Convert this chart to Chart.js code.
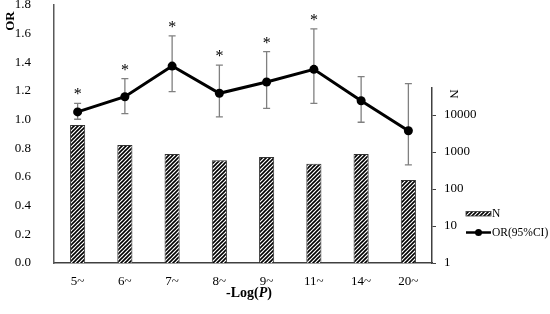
<!DOCTYPE html>
<html>
<head>
<meta charset="utf-8">
<script src="https://cdn.jsdelivr.net/npm/chart.js@4.4.1/dist/chart.umd.min.js"></script>
<style>
  html, body { margin: 0; padding: 0; background: #fff; }
  #wrap { width: 550px; height: 314px; }
</style>
</head>
<body>
<div id="wrap"><canvas id="mycanvas" width="550" height="314"></canvas></div>
<script>
var labels = ['5~', '6~', '7~', '8~', '9~', '11~', '14~', '20~'];
var orValues = [1.054, 1.16, 1.374, 1.184, 1.263, 1.351, 1.132, 0.923];
var ciLow = [1.003, 1.042, 1.195, 1.019, 1.079, 1.114, 0.982, 0.684];
var ciHigh = [1.114, 1.286, 1.584, 1.381, 1.475, 1.633, 1.30, 1.251];
var nValues = [5400, 1550, 880, 600, 730, 480, 880, 175];
var significant = [true, true, true, true, true, true, false, false];
var orTicks = [0, 0.2, 0.4, 0.6, 0.8, 1.0, 1.2, 1.4, 1.6, 1.8];
var nTicks = [1, 10, 100, 1000, 10000];

var serif = "'Liberation Serif', 'Times New Roman', serif";

function makeHatch() {
  var c = document.createElement('canvas');
  c.width = 4; c.height = 4;
  var g = c.getContext('2d');
  g.fillStyle = '#fff';
  g.fillRect(0, 0, 4, 4);
  g.strokeStyle = '#000';
  g.lineWidth = 1.6;
  g.beginPath();
  g.moveTo(0, 4); g.lineTo(4, 0);
  g.moveTo(-1, 1); g.lineTo(1, -1);
  g.moveTo(3, 5); g.lineTo(5, 3);
  g.stroke();
  return g.createPattern(c, 'repeat');
}
var hatch = makeHatch();

function noPad(s) { s.paddingTop = 0; s.paddingBottom = 0; }

// error bars, stars, custom titles and legend
var extras = {
  id: 'extras',
  beforeDatasetsDraw: function(chart) {
    var ctx = chart.ctx, xs = chart.scales.x, ys = chart.scales.y;
    ctx.save();
    ctx.strokeStyle = '#808080';
    ctx.lineWidth = 1.3;
    for (var i = 0; i < labels.length; i++) {
      var px = xs.getPixelForValue(i);
      var lo = ys.getPixelForValue(ciLow[i]);
      var hi = ys.getPixelForValue(ciHigh[i]);
      ctx.beginPath();
      ctx.moveTo(px, lo); ctx.lineTo(px, hi);
      ctx.moveTo(px - 3.5, lo); ctx.lineTo(px + 3.5, lo);
      ctx.moveTo(px - 3.5, hi); ctx.lineTo(px + 3.5, hi);
      ctx.stroke();
    }
    ctx.restore();
  },
  afterDraw: function(chart) {
    var ctx = chart.ctx, xs = chart.scales.x, ys = chart.scales.y;
    var area = chart.chartArea;
    ctx.save();
    ctx.fillStyle = '#000';

    // stars
    ctx.font = '16px ' + serif;
    ctx.textAlign = 'center';
    ctx.textBaseline = 'alphabetic';
    for (var i = 0; i < labels.length; i++) {
      if (!significant[i]) continue;
      var px = xs.getPixelForValue(i);
      var hi = ys.getPixelForValue(ciHigh[i]);
      ctx.fillText('*', px, hi - 4);
    }

    // x title -Log(P)
    var parts = [['-Log(', 'bold 14px '], ['P', 'italic bold 14px '], [')', 'bold 14px ']];
    var total = 0;
    parts.forEach(function(p) { ctx.font = p[1] + serif; total += ctx.measureText(p[0]).width; });
    var tx = (area.left + area.right) / 2 + 6 - total / 2;
    ctx.textAlign = 'left';
    ctx.textBaseline = 'middle';
    parts.forEach(function(p) {
      ctx.font = p[1] + serif;
      ctx.fillText(p[0], tx, 293);
      tx += ctx.measureText(p[0]).width;
    });

    // left axis title OR
    ctx.save();
    ctx.translate(11, area.top + 16);
    ctx.rotate(-Math.PI / 2);
    ctx.font = 'bold 13px ' + serif;
    ctx.textAlign = 'center';
    ctx.fillText('OR', 0, 0);
    ctx.restore();

    // right axis title N
    var yn = chart.scales.yN;
    ctx.save();
    ctx.translate(yn.left + 21, yn.top + 6);
    ctx.rotate(Math.PI / 2);
    ctx.font = '13px ' + serif;
    ctx.textAlign = 'center';
    ctx.fillText('N', 0, 0);
    ctx.restore();

    // legend
    var lx = 466;
    ctx.fillStyle = hatch;
    ctx.fillRect(lx, 211.5, 25, 4.5);
    ctx.strokeStyle = '#333';
    ctx.lineWidth = 0.8;
    ctx.strokeRect(lx, 211.5, 25, 4.5);
    ctx.strokeStyle = '#000';
    ctx.lineWidth = 2.5;
    ctx.beginPath();
    ctx.moveTo(lx, 232.5); ctx.lineTo(lx + 25, 232.5);
    ctx.stroke();
    ctx.fillStyle = '#000';
    ctx.beginPath();
    ctx.arc(lx + 12.5, 232.5, 3.5, 0, Math.PI * 2);
    ctx.fill();
    ctx.font = '11.5px ' + serif;
    ctx.textAlign = 'left';
    ctx.textBaseline = 'middle';
    ctx.fillText('N', lx + 26, 214);
    ctx.fillText('OR(95%CI)', lx + 26, 233);
    ctx.restore();
  }
};

var ctx = document.getElementById('mycanvas');

var chartdata = {
  labels: labels,
  datasets: [
    {
      type: 'line',
      label: 'OR(95%CI)',
      data: orValues,
      yAxisID: 'y',
      order: 0,
      borderColor: '#000',
      backgroundColor: '#000',
      borderWidth: 3,
      pointRadius: 4.5,
      pointBackgroundColor: '#000',
      pointBorderWidth: 0,
      tension: 0
    },
    {
      type: 'bar',
      label: 'N',
      data: nValues,
      yAxisID: 'yN',
      order: 1,
      backgroundColor: hatch,
      borderColor: '#333',
      borderWidth: 1,
      categoryPercentage: 1,
      barPercentage: 0.32
    }
  ]
};

var LineGraph = new Chart(ctx, {
  type: 'bar',
  data: chartdata,
  plugins: [extras],
  options: {
    responsive: false,
    animation: false,
    layout: { padding: { top: 5, right: 0, bottom: 0, left: 0 } },
    plugins: { legend: { display: false }, tooltip: { enabled: false } },
    scales: {
      x: {
        grid: { display: false },
        border: { color: '#404040', width: 1.5 },
        ticks: { color: '#000', font: { family: serif, size: 13 }, padding: 3 },
        afterFit: function(s) { s.height = 51; s.paddingLeft = 0; s.paddingRight = 0; }
      },
      y: {
        position: 'left',
        min: 0,
        max: 1.8,
        grid: { display: false },
        border: { color: '#595959', width: 1.5 },
        afterBuildTicks: function(s) { s.ticks = orTicks.map(function(v) { return { value: v }; }); },
        ticks: {
          color: '#000', font: { family: serif, size: 13 }, padding: 15,
          callback: function(v) { return v.toFixed(1); }
        },
        afterFit: function(s) { s.width = 54; noPad(s); }
      },
      yTop: {
        position: 'right',
        stack: 'r',
        stackWeight: 83,
        grid: { display: false },
        border: { display: false },
        ticks: { display: false },
        afterFit: noPad
      },
      yN: {
        type: 'logarithmic',
        position: 'right',
        stack: 'r',
        stackWeight: 175,
        min: 1,
        max: 53700,
        grid: { display: true, drawOnChartArea: false, drawTicks: true, tickLength: 4, color: '#404040' },
        border: { color: '#404040', width: 1.5 },
        afterBuildTicks: function(s) { s.ticks = nTicks.map(function(v) { return { value: v }; }); },
        ticks: {
          color: '#000', font: { family: serif, size: 13 }, padding: 8,
          callback: function(v) { return String(v); }
        },
        afterFit: function(s) { s.width = 118; noPad(s); }
      }
    }
  }
});
</script>
</body>
</html>
